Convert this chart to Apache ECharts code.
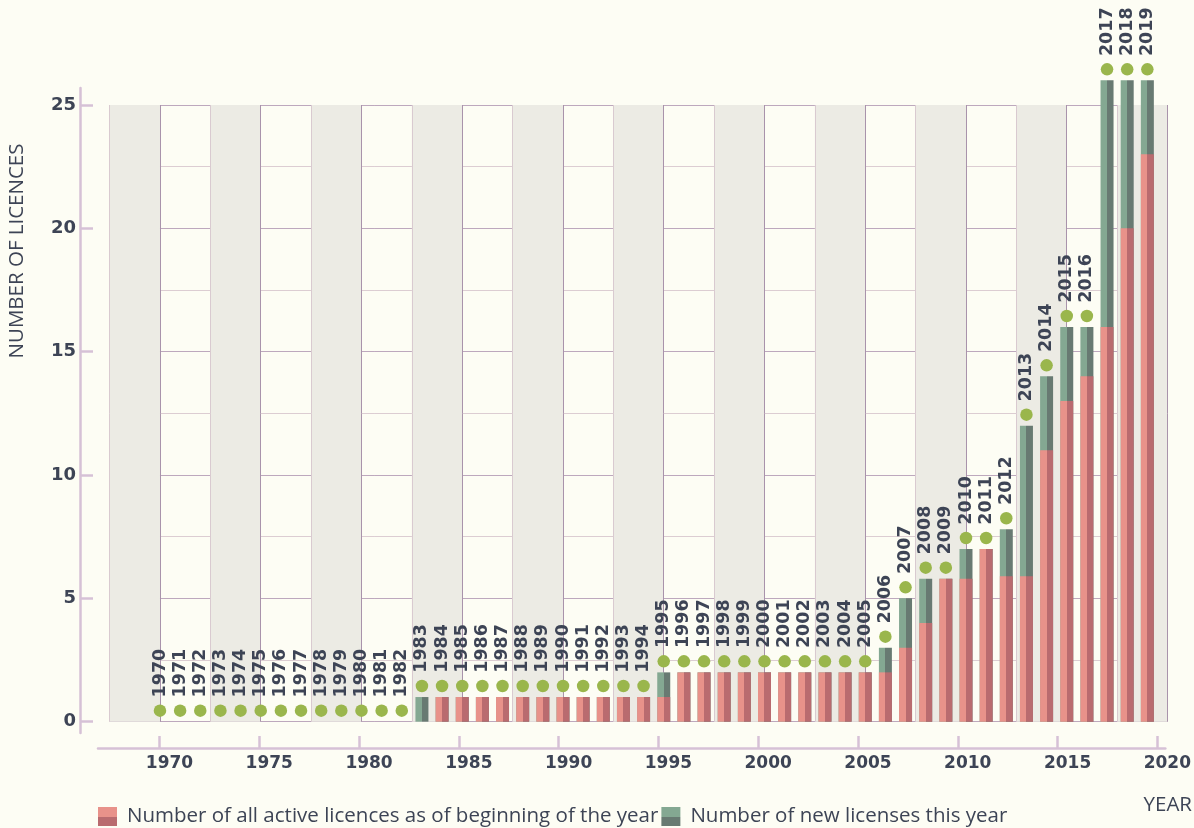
<!DOCTYPE html>
<html>
<head>
<meta charset="utf-8">
<title>Licences per year</title>
<script src="https://cdn.jsdelivr.net/npm/echarts@6/dist/echarts.min.js"></script>
<style>
  html, body { margin: 0; padding: 0; background: #fdfdf4; }
  #chart { width: 1194px; height: 828px; }
</style>
</head>
<body>
<div id="chart"></div>
<script>
// data
const years = [
  1970, 1971, 1972, 1973, 1974, 1975, 1976, 1977, 1978, 1979,
  1980, 1981, 1982, 1983, 1984, 1985, 1986, 1987, 1988, 1989,
  1990, 1991, 1992, 1993, 1994, 1995, 1996, 1997, 1998, 1999,
  2000, 2001, 2002, 2003, 2004, 2005, 2006, 2007, 2008, 2009,
  2010, 2011, 2012, 2013, 2014, 2015, 2016, 2017, 2018, 2019
]
// active licences at the beginning of the year
const activeLicences = [
  0, 0, 0, 0, 0, 0, 0, 0, 0, 0,
  0, 0, 0, 0, 1, 1, 1, 1, 1, 1,
  1, 1, 1, 1, 1, 1, 2, 2, 2, 2,
  2, 2, 2, 2, 2, 2, 2, 3, 4, 5.8,
  5.8, 7, 5.9, 5.9, 11, 13, 14, 16, 20, 23
]
// new licences in the year
const newLicences = [
  0, 0, 0, 0, 0, 0, 0, 0, 0, 0,
  0, 0, 0, 1, 0, 0, 0, 0, 0, 0,
  0, 0, 0, 0, 0, 1, 0, 0, 0, 0,
  0, 0, 0, 0, 0, 0, 1, 2, 1.8, 0,
  1.2, 0, 1.9, 6.1, 3, 3, 2, 10, 6, 3
]
const xTickLabels = [1970, 1975, 1980, 1985, 1990, 1995, 2000, 2005, 2010, 2015, 2020]
const yTickLabels = [0, 5, 10, 15, 20, 25]

const seriesNames = [
  'Number of all active licences as of beginning of the year',
  'Number of new licenses this year'
]

const FONT = '"Open Sans", Lato, sans-serif'
const NUM_FONT = '"DejaVu Sans", sans-serif'
const TEXT = '#3d4455'
const AXIS = '#d6c1d6'
const BAND = '#ecebe4'
const PINK = ['#e8928a', '#b96b6f']
const GREEN = ['#84a892', '#687a72']
const DOT = '#9ab64c'

function splitColor(c, horizontal) {
  // two tone fill: left half light, right half dark (top / bottom for the legend)
  return new echarts.graphic.LinearGradient(0, 0, horizontal ? 1 : 0, horizontal ? 0 : 1, [
    { offset: 0, color: c[0] },
    { offset: 0.5, color: c[0] },
    { offset: 0.5, color: c[1] },
    { offset: 1, color: c[1] }
  ])
}

// the green bar runs up to the total, the pink one is painted over its lower part
const totals = years.map((y, i) => activeLicences[i] + newLicences[i])
const activeData = years.map((y, i) => [y, activeLicences[i]])
const totalData = years.map((y, i) => [y, totals[i]])

const chart = echarts.init(document.getElementById('chart'))

chart.setOption({
  backgroundColor: '#fdfdf4',
  animation: false,
  textStyle: { fontFamily: FONT },
  grid: [
    // plot area with bands
    { left: 109.6, top: 105, width: 1057.9, height: 616.7 },
    // visible y axis, offset to the left
    { left: 80, top: 88, width: 10, bottom: 95 },
    // visible x axis, offset downwards
    { left: 98, right: 19, bottom: 80, height: 10 }
  ],
  legend: {
    left: 93,
    top: 801,
    icon: 'rect',
    itemWidth: 19,
    itemHeight: 19,
    itemGap: 3,
    textStyle: { fontSize: 20.5, color: TEXT, fontFamily: FONT, padding: [0, 0, 0, 5] },
    data: [
      { name: seriesNames[0], itemStyle: { color: splitColor(PINK, false) } },
      { name: seriesNames[1], itemStyle: { color: splitColor(GREEN, false) } }
    ]
  },
  xAxis: [
    {
      gridIndex: 0,
      type: 'value',
      min: 1967.5,
      max: 2020,
      interval: 2.5,
      axisLine: { show: false },
      axisTick: { show: false },
      axisLabel: { show: false },
      splitLine: { show: true, lineStyle: { color: ['#d9cad0', '#a993ab'], width: 1 } },
      splitArea: { show: true, areaStyle: { color: [BAND, 'rgba(0,0,0,0)'] } }
    },
    {
      gridIndex: 1,
      type: 'value',
      show: false
    },
    {
      gridIndex: 2,
      type: 'value',
      min: 1966.92,
      max: 2020.4,
      axisLine: { show: true, lineStyle: { color: AXIS, width: 2.5 } },
      axisTick: {
        show: true,
        inside: true,
        length: 12,
        customValues: xTickLabels,
        lineStyle: { color: AXIS, width: 2.5 }
      },
      axisLabel: {
        customValues: xTickLabels,
        formatter: v => String(v),
        margin: 7,
        fontSize: 17,
        fontWeight: 'bold',
        fontFamily: NUM_FONT,
        color: TEXT,
        padding: [0, 0, 0, 20]
      },
      splitLine: { show: false }
    }
  ],
  yAxis: [
    {
      gridIndex: 0,
      type: 'value',
      min: 0,
      max: 25,
      interval: 2.5,
      axisLine: { show: false },
      axisTick: { show: false },
      axisLabel: { show: false },
      splitLine: { show: true, lineStyle: { color: ['#bda8bd', '#dccdd2'], width: 1 } }
    },
    {
      gridIndex: 1,
      type: 'value',
      min: -0.458,
      max: 25.69,
      axisLine: { show: true, lineStyle: { color: AXIS, width: 2.5 } },
      axisTick: {
        show: true,
        inside: true,
        length: 13,
        customValues: yTickLabels,
        lineStyle: { color: AXIS, width: 2.5 }
      },
      axisLabel: {
        customValues: yTickLabels,
        formatter: v => String(v),
        margin: 4,
        fontSize: 18,
        fontWeight: 'bold',
        fontFamily: NUM_FONT,
        color: TEXT
      },
      splitLine: { show: false }
    },
    {
      gridIndex: 2,
      type: 'value',
      show: false
    }
  ],
  graphic: [
    {
      type: 'text',
      x: 17,
      y: 251,
      rotation: Math.PI / 2,
      style: {
        text: 'NUMBER OF LICENCES',
        fontSize: 20.5,
        fontFamily: FONT,
        fill: TEXT,
        textAlign: 'center',
        textVerticalAlign: 'middle'
      }
    },
    {
      type: 'text',
      right: 2,
      top: 795,
      style: {
        text: 'YEAR',
        fontSize: 20.5,
        fontFamily: FONT,
        fill: TEXT
      }
    }
  ],
  series: [
    {
      name: seriesNames[1],
      type: 'bar',
      xAxisIndex: 0,
      yAxisIndex: 0,
      barWidth: 13,
      barGap: '-100%',
      clip: false,
      z: 2,
      itemStyle: { color: splitColor(GREEN, true) },
      data: totalData
    },
    {
      name: seriesNames[0],
      type: 'bar',
      xAxisIndex: 0,
      yAxisIndex: 0,
      barWidth: 13,
      barGap: '-100%',
      clip: false,
      z: 3,
      itemStyle: { color: splitColor(PINK, true) },
      data: activeData
    },
    {
      name: 'year',
      type: 'scatter',
      xAxisIndex: 0,
      yAxisIndex: 0,
      clip: false,
      z: 4,
      symbolSize: 12.5,
      symbolOffset: [0, -11],
      itemStyle: { color: DOT, opacity: 1 },
      label: {
        show: true,
        position: 'top',
        distance: 7,
        rotate: 90,
        align: 'left',
        verticalAlign: 'middle',
        fontSize: 17.5,
        fontWeight: 'bold',
        fontFamily: NUM_FONT,
        color: TEXT,
        formatter: p => String(p.value[0])
      },
      data: totalData
    }
  ]
})
</script>
</body>
</html>
